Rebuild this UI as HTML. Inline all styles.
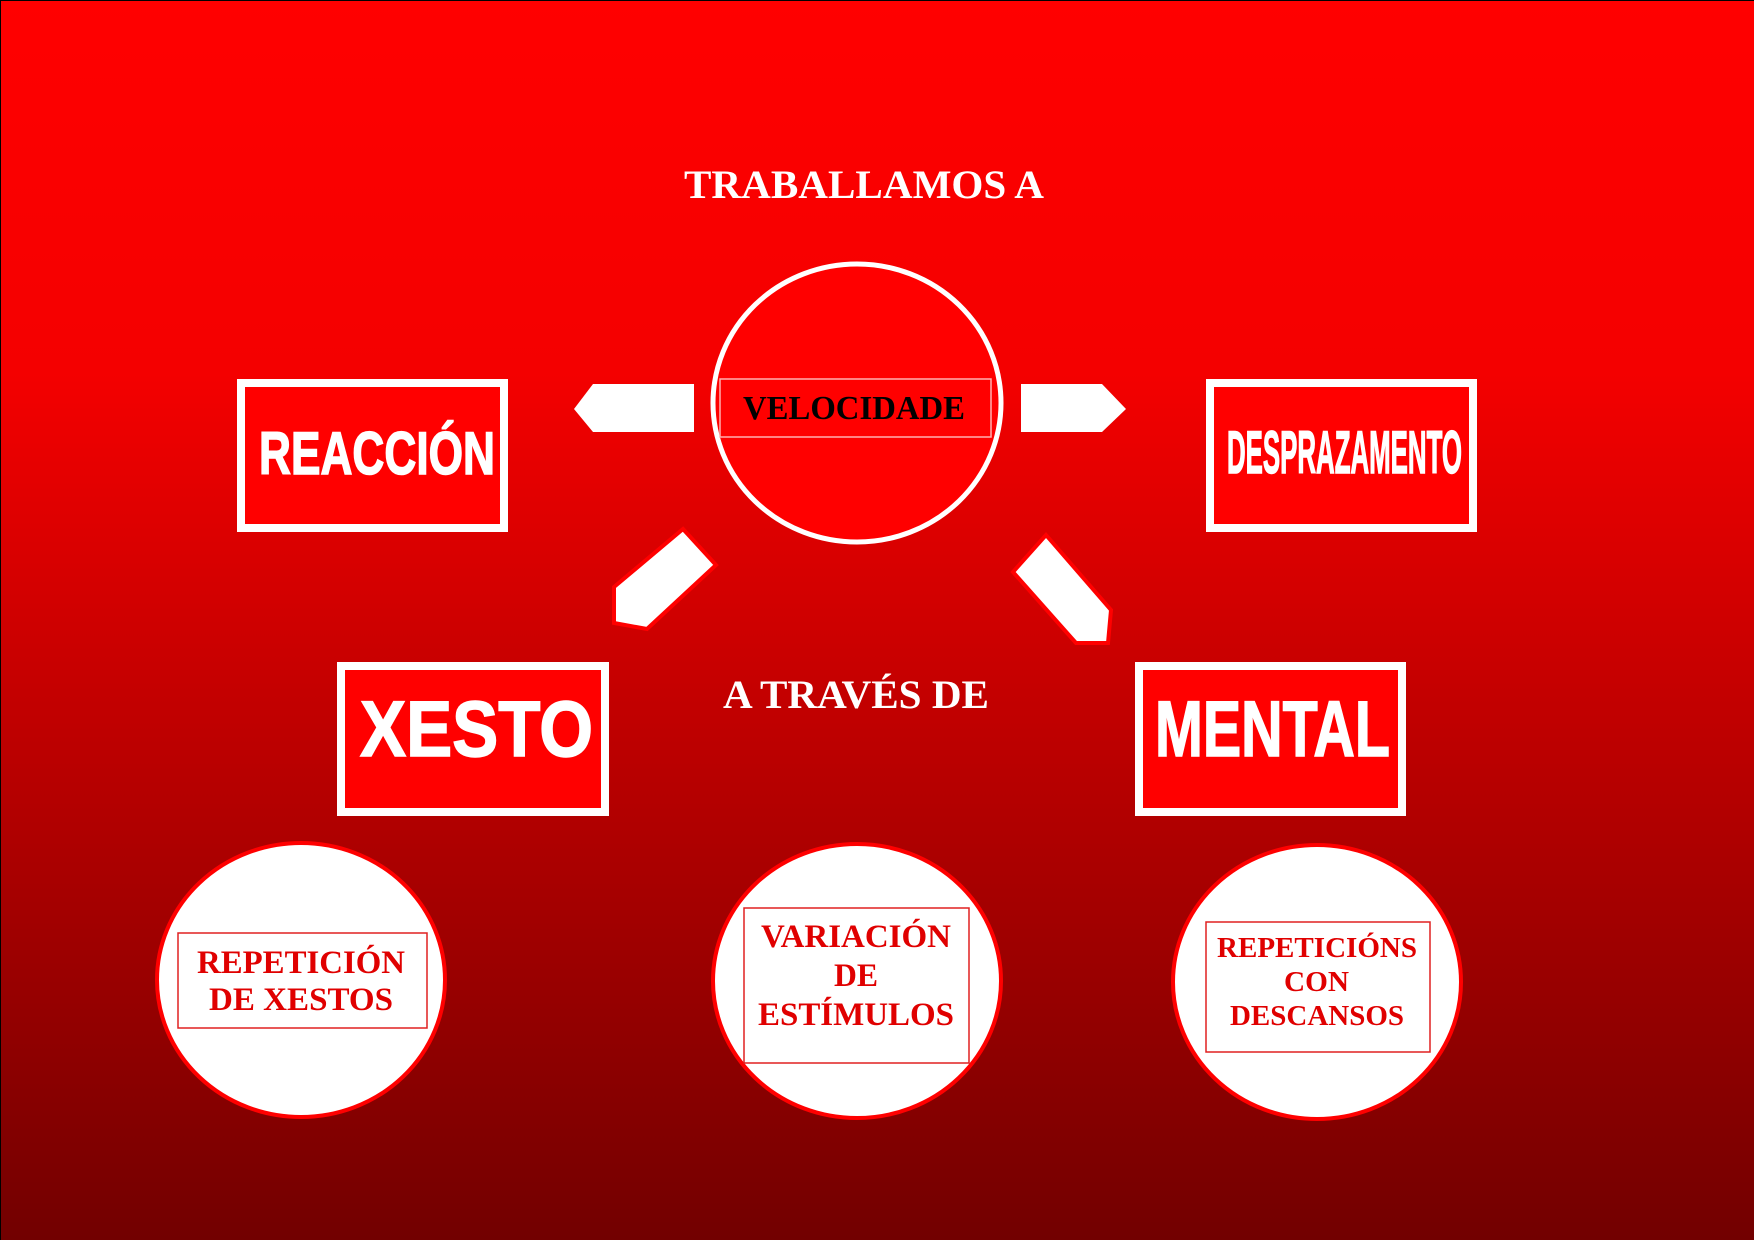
<!DOCTYPE html>
<html><head><meta charset="utf-8"><style>html,body{margin:0;padding:0;background:#000}svg{display:block}</style></head>
<body>
<svg width="1754" height="1240" viewBox="0 0 1754 1240" xmlns="http://www.w3.org/2000/svg">
<defs>
<linearGradient id="bg" x1="0" y1="0" x2="0" y2="1">
<stop offset="0" stop-color="#ff0000"/>
<stop offset="0.3" stop-color="#f40000"/>
<stop offset="1" stop-color="#720000"/>
</linearGradient>
</defs>
<rect x="0" y="0" width="1754" height="1240" fill="#000"/>
<rect x="1" y="1" width="1753" height="1239" fill="url(#bg)"/>

<text x="684" y="198" textLength="360" lengthAdjust="spacingAndGlyphs" font-family="Liberation Serif, serif" font-weight="bold" font-size="40" fill="#fff">TRABALLAMOS A</text>

<ellipse cx="857" cy="403" rx="144" ry="139" fill="#ff0000" stroke="#fff" stroke-width="5"/>
<rect x="720" y="379" width="271" height="58" fill="none" stroke="#ffb0b0" stroke-width="1.5"/>
<text x="743" y="419" textLength="222" lengthAdjust="spacingAndGlyphs" font-family="Liberation Serif, serif" font-weight="bold" font-size="34" fill="#000">VELOCIDADE</text>

<polygon points="694,384 593,384 574,409 593,432 694,432" fill="#fff"/>
<polygon points="1021,384 1102,384 1126,409 1102,432 1021,432" fill="#fff"/>
<polygon points="683,529 716,565 647,629 614,623 614,587" fill="#fff" stroke="#ff0000" stroke-width="4"/>
<polygon points="1046,535 1111,610 1108,643 1076,643 1013,572" fill="#fff" stroke="#ff0000" stroke-width="4"/>

<rect x="241" y="383" width="263" height="145" fill="#ff0000" stroke="#fff" stroke-width="8"/>
<text x="259" y="474" textLength="236" lengthAdjust="spacingAndGlyphs" font-family="Liberation Sans, sans-serif" font-weight="bold" font-size="60" fill="#fff" stroke="#fff" stroke-width="1.5">REACCIÓN</text>

<rect x="1210" y="383" width="263" height="145" fill="#ff0000" stroke="#fff" stroke-width="8"/>
<text x="1227" y="473" textLength="235" lengthAdjust="spacingAndGlyphs" font-family="Liberation Sans, sans-serif" font-weight="bold" font-size="60" fill="#fff" stroke="#fff" stroke-width="1.5">DESPRAZAMENTO</text>

<rect x="341" y="666" width="264" height="146" fill="#ff0000" stroke="#fff" stroke-width="8"/>
<text x="360" y="756" textLength="233" lengthAdjust="spacingAndGlyphs" font-family="Liberation Sans, sans-serif" font-weight="bold" font-size="79" fill="#fff" stroke="#fff" stroke-width="1.5">XESTO</text>

<rect x="1139" y="666" width="263" height="146" fill="#ff0000" stroke="#fff" stroke-width="8"/>
<text x="1155" y="756" textLength="235" lengthAdjust="spacingAndGlyphs" font-family="Liberation Sans, sans-serif" font-weight="bold" font-size="79" fill="#fff" stroke="#fff" stroke-width="1.5">MENTAL</text>

<text x="723" y="708" textLength="266" lengthAdjust="spacingAndGlyphs" font-family="Liberation Serif, serif" font-weight="bold" font-size="40" fill="#fff">A TRAVÉS DE</text>

<ellipse cx="301" cy="980" rx="144" ry="137" fill="#fff" stroke="#ff0000" stroke-width="4"/>
<rect x="178" y="933" width="249" height="95" fill="none" stroke="#e02020" stroke-width="1.5"/>
<g font-family="Liberation Serif, serif" font-weight="bold" font-size="33" fill="#e00000">
<text x="197" y="973" textLength="208" lengthAdjust="spacingAndGlyphs">REPETICIÓN</text>
<text x="209" y="1010" textLength="184" lengthAdjust="spacingAndGlyphs">DE XESTOS</text>
</g>

<ellipse cx="857" cy="981" rx="144" ry="137" fill="#fff" stroke="#ff0000" stroke-width="4"/>
<rect x="744" y="908" width="225" height="155" fill="none" stroke="#e02020" stroke-width="1.5"/>
<g font-family="Liberation Serif, serif" font-weight="bold" font-size="33" fill="#e00000">
<text x="761" y="947" textLength="190" lengthAdjust="spacingAndGlyphs">VARIACIÓN</text>
<text x="834" y="986" textLength="44" lengthAdjust="spacingAndGlyphs">DE</text>
<text x="758" y="1025" textLength="196" lengthAdjust="spacingAndGlyphs">ESTÍMULOS</text>
</g>

<ellipse cx="1317" cy="982" rx="144" ry="137" fill="#fff" stroke="#ff0000" stroke-width="4"/>
<rect x="1206" y="922" width="224" height="130" fill="none" stroke="#e02020" stroke-width="1.5"/>
<g font-family="Liberation Serif, serif" font-weight="bold" font-size="29" fill="#e00000">
<text x="1217" y="957" textLength="200" lengthAdjust="spacingAndGlyphs">REPETICIÓNS</text>
<text x="1284" y="991" textLength="65" lengthAdjust="spacingAndGlyphs">CON</text>
<text x="1230" y="1025" textLength="174" lengthAdjust="spacingAndGlyphs">DESCANSOS</text>
</g>
</svg>
</body></html>
